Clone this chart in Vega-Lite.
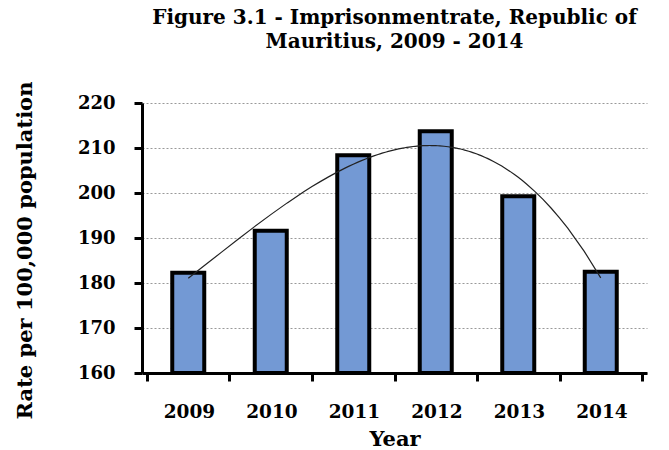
{
  "$schema": "https://vega.github.io/schema/vega-lite/v6.json",
  "width": 505,
  "height": 270,
  "autosize": {"type": "none"},
  "padding": {"left": 142, "top": 103, "right": 22, "bottom": 77},
  "background": "white",
  "config": {"view": {"stroke": null}, "font": "DejaVu Serif"},
  "title": {
    "text": ["Figure 3.1 - Imprisonmentrate,  Republic of", "Mauritius, 2009 - 2014"],
    "font": "DejaVu Serif",
    "fontSize": 20,
    "fontWeight": "bold",
    "color": "black",
    "offset": 29,
    "lineHeight": 24,
    "anchor": "middle"
  },
  "data": {
    "values": [
      {"Year": 2009, "Rate": 182.3},
      {"Year": 2010, "Rate": 191.6},
      {"Year": 2011, "Rate": 208.4},
      {"Year": 2012, "Rate": 213.7},
      {"Year": 2013, "Rate": 199.3},
      {"Year": 2014, "Rate": 182.5}
    ]
  },
  "encoding": {
    "x": {
      "field": "Year",
      "type": "quantitative",
      "scale": {"domain": [2008.5, 2014.5], "nice": false, "zero": false},
      "axis": {
        "values": [2008.5, 2009.5, 2010.5, 2011.5, 2012.5, 2013.5, 2014.5],
        "labelExpr": "datum.value < 2014 ? '' + (floor(datum.value) + 1) : ''",
        "labelOffset": 42,
        "labelFlush": false,
        "labelOverlap": false,
        "labelFont": "DejaVu Serif",
        "labelFontSize": 18.5,
        "labelFontWeight": "bold",
        "labelColor": "black",
        "labelPadding": 21,
        "domainColor": "black",
        "domainWidth": 3,
        "tickColor": "black",
        "tickWidth": 3,
        "tickSize": 8,
        "grid": false,
        "title": "Year",
        "titleFont": "DejaVu Serif",
        "titleFontSize": 21,
        "titleFontWeight": "bold",
        "titleColor": "black",
        "titleBaseline": "alphabetic",
        "titleY": 72
      }
    },
    "y": {
      "field": "Rate",
      "type": "quantitative",
      "scale": {"domain": [160, 220], "nice": false, "zero": false},
      "axis": {
        "values": [160, 170, 180, 190, 200, 210, 220],
        "labelFont": "DejaVu Serif",
        "labelFontSize": 18,
        "labelFontWeight": "bold",
        "labelColor": "black",
        "labelPadding": 19,
        "domainColor": "black",
        "domainWidth": 3,
        "tickColor": "black",
        "tickWidth": 3,
        "tickSize": 8,
        "grid": true,
        "gridColor": "#999999",
        "gridDash": [2, 2],
        "gridWidth": 1,
        "title": "Rate per 100,000 population",
        "titleFont": "DejaVu Serif",
        "titleFontSize": 21,
        "titleFontWeight": "bold",
        "titleColor": "black",
        "titleBaseline": "middle",
        "titleX": -117,
        "titleY": 147
      }
    }
  },
  "layer": [
    {
      "mark": {"type": "bar", "size": 32, "fill": "#7399d4", "stroke": "black", "strokeWidth": 4},
      "encoding": {"y2": {"datum": 160}}
    },
    {
      "transform": [{"regression": "Rate", "on": "Year", "method": "poly", "order": 3}],
      "mark": {"type": "line", "color": "#222222", "strokeWidth": 1.2}
    }
  ]
}
